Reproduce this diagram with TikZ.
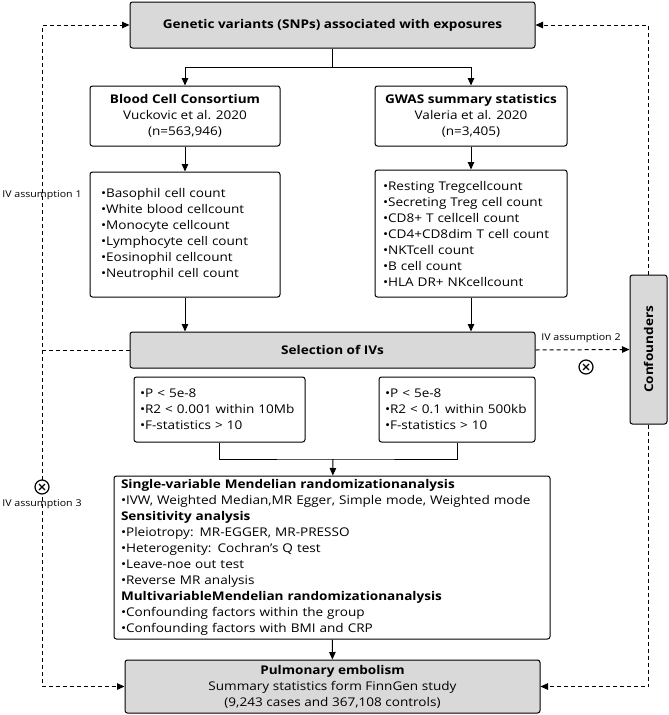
\documentclass[tikz,border=0pt]{standalone}
\usepackage{fontspec}
\usepackage{graphicx}
\setmainfont{Open Sans}[FakeStretch=1.13]
\usetikzlibrary{arrows.meta}

\begin{document}
\begin{tikzpicture}[
        x=1pt, y=-1pt,
        box/.style={draw, rounded corners=2.5pt, line width=1pt, inner sep=0pt, font=\fontsize{12}{16}\selectfont},
        shaded/.style={box, fill=black!15, align=center},
        title/.style={font=\fontsize{12}{16}\selectfont\bfseries},
        link/.style={line width=1pt, -{Triangle[length=7.5pt, width=6.5pt]}},
        hint/.style={link, dash pattern=on 4pt off 3pt},
        tag/.style={font=\fontsize{9.4}{11}\selectfont, inner sep=1pt},
        nocross/.style={circle, draw, line width=1.2pt, minimum size=14pt, inner sep=0pt,
            path picture={
                \draw[line width=1.2pt] ([shift={(-3pt,-3pt)}]path picture bounding box.center) -- ++(6pt,6pt);
                \draw[line width=1.2pt] ([shift={(-3pt,3pt)}]path picture bounding box.center) -- ++(6pt,-6pt);
            }}
    ]
        \useasboundingbox (0,0) rectangle (669,715);

        % Exposure side
        \node[shaded, title, minimum width=405pt, minimum height=46pt] (snps) at (332.5,25) {Genetic variants (SNPs) associated with exposures};
        \node[box, align=center, minimum width=190pt, minimum height=60pt] (bcc) at (185,116) {\textbf{Blood Cell Consortium}\\Vuckovic et al. 2020\\(n=563,946)};
        \node[box, align=center, minimum width=192pt, minimum height=60pt] (gwas) at (471,116) {\textbf{GWAS summary statistics}\\Valeria et al. 2020\\(n=3,405)};

        % Traits of each source
        \node[box, align=left, text width=168pt, inner xsep=11pt, minimum height=125pt] (blist) at (185,234.5) {•Basophil cell count\\•White blood cellcount\\•Monocyte cellcount\\•Lymphocyte cell count\\•Eosinophil cellcount\\•Neutrophil cell count};
        \node[box, align=left, text width=176pt, inner xsep=8pt, minimum height=127pt] (glist) at (471,233.5) {•Resting Tregcellcount\\•Secreting Treg cell count\\•CD8+ T cellcell count\\•CD4+CD8dim T cell count\\•NKTcell count\\•B cell count\\•HLA DR+ NKcellcount};

        % IV selection and thresholds
        \node[shaded, title, minimum width=405pt, minimum height=36pt] (sel) at (332.5,350) {Selection of IVs};
        \node[box, align=left, text width=159pt, inner xsep=6pt, minimum height=65pt] (f1) at (219.5,409.5) {•P < 5e-8\\•R2 < 0.001 within 10Mb\\•F-statistics > 10};
        \node[box, align=left, text width=144pt, inner xsep=6pt, minimum height=65pt] (f2) at (457,409.5) {•P < 5e-8\\•R2 < 0.1 within 500kb\\•F-statistics > 10};

        % Analyses
        \node[box, align=left, text width=422pt, inner xsep=7pt, minimum height=163pt] (mr) at (332,557.5) {\textbf{Single-variable Mendelian randomizationanalysis}\\•IVW, Weighted Median,MR Egger, Simple mode, Weighted mode\\\textbf{Sensitivity analysis}\\•Pleiotropy: MR-EGGER, MR-PRESSO\\•Heterogenity: Cochran's Q test\\•Leave-noe out test\\•Reverse MR analysis\\\textbf{MultivariableMendelian randomizationanalysis}\\•Confounding factors within the group\\•Confounding factors with BMI and CRP};

        % Outcome and confounders
        \node[shaded, minimum width=415pt, minimum height=53pt] (pe) at (332.5,686.5) {\textbf{Pulmonary embolism}\\Summary statistics form FinnGen study\\(9,243 cases and 367,108 controls)};
        \node[shaded, title, minimum width=37pt, minimum height=149pt] (conf) at (648.5,349.5) {\rotatebox{90}{Confounders}};

        % Main flow
        \coordinate (split) at (332.5,67);
        \coordinate (merge) at (333,459);
        \draw[line width=1pt] (snps) -- (split);
        \draw[link] (split) -| (bcc.north);
        \draw[link] (split) -| (gwas.north);
        \draw[link] (bcc) -- (blist);
        \draw[link] (gwas) -- (glist);
        \draw[link] (blist) -- (blist |- sel.north);
        \draw[link] (glist) -- (glist |- sel.north);
        \draw[line width=1pt] (f1) |- (merge) -| (f2);
        \draw[link] (merge) -- (mr);
        \draw[link] (mr) -- (pe);

        % IV assumptions
        \coordinate (lc) at (42,350);
        \draw[hint] (sel.west) -- (lc) |- (snps.west);
        \draw[hint] (lc) |- (pe.west);
        \draw[hint] (sel.east) -- (conf.west);
        \draw[hint] (conf.north) |- (snps.east);
        \draw[hint] (conf.south) |- (pe.east);

        \node[tag] (iv1) at (42,195) {IV assumption 1};
        \node[tag] (iv2) at (581,338) {IV assumption 2};
        \node[tag] (iv3) at (42,504) {IV assumption 3};
        \node[nocross, fill=white] (x2) at (586,367) {};
        \node[nocross, fill=white] (x3) at (42,487) {};
\end{tikzpicture}
\end{document}
